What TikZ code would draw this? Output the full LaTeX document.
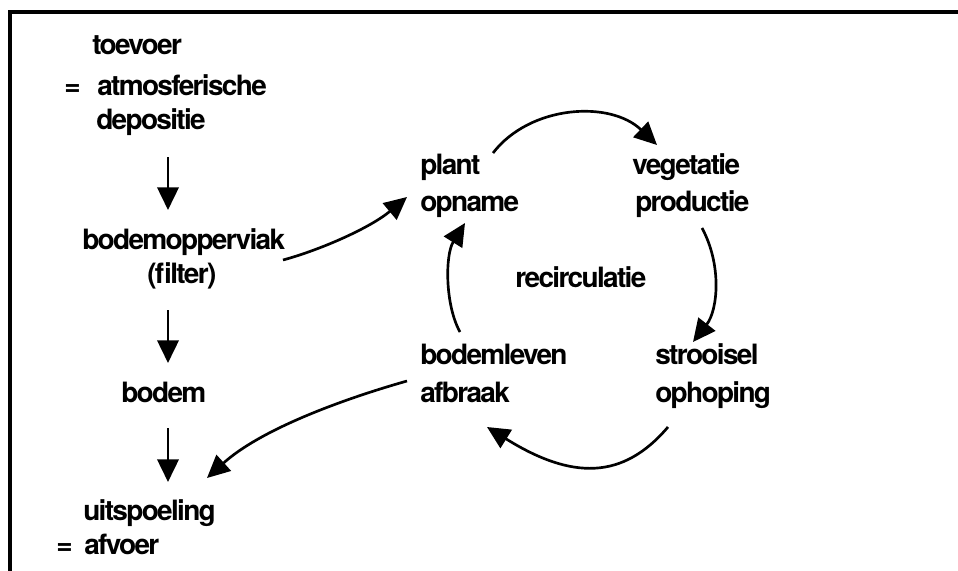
\documentclass[tikz,border=0pt]{standalone}
\usepackage{fontspec}
\setmainfont[LetterSpace=-6]{TeX Gyre Heros}
\usetikzlibrary{arrows.meta,calc}
\begin{document}
\begin{tikzpicture}[x=0.75pt,y=-0.75pt,
  lbl/.style={anchor=base west,inner sep=0pt,font=\fontsize{21}{25}\selectfont\bfseries},
  arr/.style={line width=2pt,-{Triangle[length=17pt,width=16pt]}},
  framestyle/.style={line width=3pt,line join=miter}]
\useasboundingbox (0,0) rectangle (958,571);
% frame (only top and left edges visible)
\draw[framestyle] (10,571) -- (10,12) -- (958,12);
% left column
\node[lbl] (t1) at (92,55) {toevoer};
\node[lbl] (eq1) at (64,95) {=};
\node[lbl] (t2) at (97,95) {atmosferische};
\node[lbl] (t3) at (96,129) {depositie};
\node[lbl] (b1) at (82,249) {bodemopperviak};
\node[lbl] (b2) at (147,283) {(filter)};
\node[lbl] (bod) at (121,402) {bodem};
\node[lbl] (u1) at (83,520) {uitspoeling};
\node[lbl] (eq2) at (56,554) {=};
\node[lbl] (u2) at (84,554) {afvoer};
% cycle
\node[lbl] (p1) at (420,174) {plant};
\node[lbl] (p2) at (420,211) {opname};
\node[lbl] (v1) at (632,174) {vegetatie};
\node[lbl] (v2) at (635,211) {productie};
\node[lbl] (rec) at (515,287) {recirculatie};
\node[lbl] (bl1) at (420,364) {bodemleven};
\node[lbl] (bl2) at (420,402) {afbraak};
\node[lbl] (s1) at (655,364) {strooisel};
\node[lbl] (s2) at (655,402) {ophoping};
% straight arrows
\draw[arr] ($(t3.base west)+(72,28)$) -- ($(b1.base west)+(86,-39)$);
\draw[arr] ($(b2.base west)+(21,27)$) -- ($(bod.base west)+(47,-39)$);
\draw[arr] ($(bod.base west)+(47,26)$) -- ($(u1.base west)+(85,-38)$);
% curved arrows
\draw[arr] ($(b1.base west)+(201,11)$) .. controls (320,250) and (370,228) .. ($(p2.base west)+(-13,-14)$);
\draw[arr] ($(p1.base west)+(73,-21)$) .. controls (530,105) and (610,100) .. ($(v1.base west)+(25,-29)$);
\draw[arr] ($(v2.base west)+(67,17)$) .. controls (722,265) and (718,310) .. ($(s1.base west)+(38,-22)$);
\draw[arr] ($(s2.base west)+(13,25)$) .. controls (623,480) and (572,480) .. ($(bl2.base west)+(67,25)$);
\draw[arr] ($(bl1.base west)+(40,-32)$) .. controls (445,305) and (445,255) .. ($(p2.base west)+(45,12)$);
\draw[arr] ($(bl2.base west)+(-13,-21)$) .. controls (340,400) and (260,430) .. ($(u1.base west)+(124,-42)$);
\end{tikzpicture}
\end{document}
